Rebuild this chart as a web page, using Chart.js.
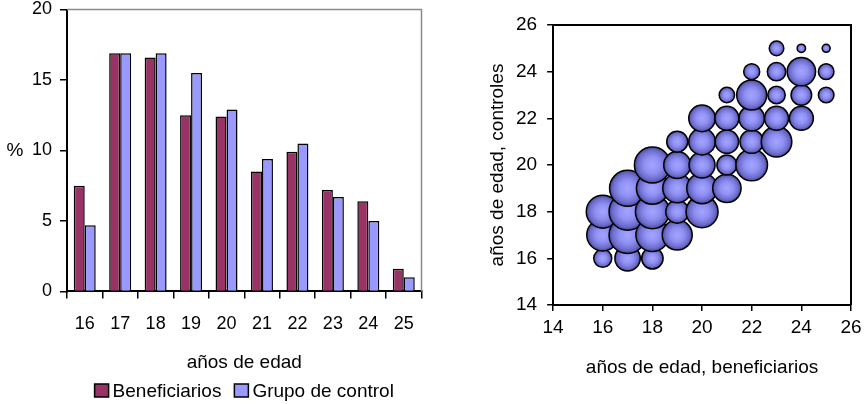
<!DOCTYPE html>
<html>
<head>
<meta charset="utf-8">
<script src="https://cdn.jsdelivr.net/npm/chart.js@4/dist/chart.umd.min.js"></script>
<style>
  html, body { margin: 0; padding: 0; background: #fff; }
  body { width: 866px; height: 404px; position: relative; overflow: hidden; }
  #c1 { position: absolute; left: 0; top: 0; }
  #c2 { position: absolute; left: 440px; top: 0; }
</style>
</head>
<body>
<canvas id="c1" width="440" height="404"></canvas>
<canvas id="c2" width="426" height="404"></canvas>
<script>
// ---- Bar chart data ----
const ageLabels = ['16', '17', '18', '19', '20', '21', '22', '23', '24', '25'];
const beneficiarios = [7.5, 16.9, 16.6, 12.5, 12.4, 8.5, 9.9, 7.2, 6.4, 1.6];
const grupoControl = [4.7, 16.9, 16.9, 15.5, 12.9, 9.4, 10.5, 6.7, 5.0, 1.0];
const barYTicks = [0, 5, 10, 15, 20];

// ---- Bubble chart data (age of beneficiary, age of control, bubble size) ----
const bubX = [16, 16, 16,
              17, 17, 17, 17,
              18, 18, 18, 18, 18,
              19, 19, 19, 19, 19,
              20, 20, 20, 20, 20,
              21, 21, 21, 21, 21,
              22, 22, 22, 22, 22,
              23, 23, 23, 23, 23,
              24, 24, 24, 24,
              25, 25, 25];
const bubY = [16, 17, 18,
              16, 17, 18, 19,
              16, 17, 18, 19, 20,
              17, 18, 19, 20, 21,
              18, 19, 20, 21, 22,
              19, 20, 21, 22, 23,
              20, 21, 22, 23, 24,
              21, 22, 23, 24, 25,
              22, 23, 24, 25,
              23, 24, 25];
const bubSize = [9, 16, 16.5,
                 12.7, 18.5, 18.5, 18,
                 10.7, 16.5, 17, 16, 18,
                 15, 11.5, 14.5, 13.5, 10.5,
                 16, 15.3, 13, 13.3, 13.3,
                 14.2, 10, 11.7, 12, 7.7,
                 15.8, 11.7, 12.7, 15, 8,
                 15.3, 12, 8.7, 9.2, 7.3,
                 12, 10.3, 14.2, 4.2,
                 7.8, 7.8, 4];
const axisTicks = [14, 16, 18, 20, 22, 24, 26];

const FONT = "'Liberation Sans', Arial, sans-serif";
Chart.defaults.font.family = FONT;
Chart.defaults.color = '#000';

function frameLines(color, width) {
  return {
    id: 'frame',
    beforeDatasetsDraw(chart) {
      const { ctx, chartArea: a } = chart;
      ctx.save();
      ctx.strokeStyle = color;
      ctx.lineWidth = width;
      ctx.beginPath();
      ctx.moveTo(a.left, a.top);
      ctx.lineTo(a.right, a.top);
      ctx.lineTo(a.right, a.bottom);
      ctx.stroke();
      ctx.restore();
    }
  };
}

const percentLabel = {
  id: 'percentLabel',
  afterDraw(chart) {
    const { ctx, chartArea: a } = chart;
    ctx.save();
    ctx.fillStyle = '#000';
    ctx.font = "19px " + FONT;
    ctx.textAlign = 'center';
    ctx.textBaseline = 'middle';
    ctx.fillText('%', 15, (a.top + a.bottom) / 2);
    ctx.restore();
  }
};

// Legend drawn under the x-axis title, centred on the plot area
const bottomLegend = {
  id: 'bottomLegend',
  afterDraw(chart) {
    const { ctx, chartArea: a } = chart;
    const items = chart.data.datasets.map(d => ({ text: d.label, color: d.backgroundColor }));
    const boxW = 14, boxH = 13, gapText = 4, gapItem = 13;
    ctx.save();
    ctx.font = "19px " + FONT;
    const widths = items.map(it => ctx.measureText(it.text).width);
    let total = 0;
    widths.forEach((w, i) => { total += boxW + gapText + w + (i < widths.length - 1 ? gapItem : 0); });
    let x = (a.left + a.right) / 2 - total / 2;
    const yc = chart.height - 13.5;
    items.forEach((it, i) => {
      ctx.fillStyle = it.color;
      ctx.fillRect(x, yc - boxH / 2, boxW, boxH);
      ctx.strokeStyle = '#000';
      ctx.lineWidth = 1.5;
      ctx.strokeRect(x, yc - boxH / 2, boxW, boxH);
      ctx.fillStyle = '#000';
      ctx.textAlign = 'left';
      ctx.textBaseline = 'middle';
      ctx.fillText(it.text, x + boxW + gapText, yc + 1);
      x += boxW + gapText + widths[i] + gapItem;
    });
    ctx.restore();
  }
};

new Chart(document.getElementById('c1'), {
  type: 'bar',
  data: {
    labels: ageLabels,
    datasets: [
      { label: 'Beneficiarios', data: beneficiarios, backgroundColor: '#993366', borderColor: '#000', borderWidth: 1.5 },
      { label: 'Grupo de control', data: grupoControl, backgroundColor: '#9999FF', borderColor: '#000', borderWidth: 1.5 }
    ]
  },
  options: {
    responsive: false,
    animation: false,
    devicePixelRatio: 1,
    categoryPercentage: 0.62,
    barPercentage: 1.0,
    layout: { padding: { left: 0, right: 18.5, top: 9.5, bottom: 29.6 } },
    plugins: {
      legend: { display: false },
      tooltip: { enabled: false }
    },
    scales: {
      x: {
        afterFit(scale) { scale.paddingLeft = 0; scale.paddingRight = 0; },
        grid: { drawOnChartArea: false, tickLength: 7, color: '#000', lineWidth: 1.5 },
        border: { color: '#000', width: 2 },
        ticks: { font: { size: 18 }, color: '#000', padding: 15 },
        title: { display: true, text: 'años de edad', font: { size: 19 }, color: '#000', padding: { top: 1.6, bottom: 0 } }
      },
      y: {
        min: 0, max: 20,
        afterBuildTicks(scale) { scale.ticks = barYTicks.map(v => ({ value: v })); },
        afterFit(scale) { scale.width = 67; scale.paddingTop = 0; scale.paddingBottom = 0; },
        grid: { drawOnChartArea: false, tickLength: 7, color: '#000', lineWidth: 1.5 },
        border: { color: '#000', width: 2 },
        ticks: { font: { size: 18 }, color: '#000', padding: 8 }
      }
    }
  },
  plugins: [frameLines('#8a8a8a', 1.5), percentLabel, bottomLegend]
});

const bubbleData = bubX.map((x, i) => ({ x: x, y: bubY[i], r: bubSize[i] }));

function bubbleFill(c) {
  if (c.type !== 'data' || !c.raw) return '#9999FF';
  const ch = c.chart;
  if (!ch.scales || !ch.scales.x || !ch.scales.y) return '#9999FF';
  const x = ch.scales.x.getPixelForValue(c.raw.x);
  const y = ch.scales.y.getPixelForValue(c.raw.y);
  const r = c.raw.r;
  if (!isFinite(x) || !isFinite(y)) return '#9999FF';
  const g = ch.ctx.createRadialGradient(x, y, 0, x, y, r);
  g.addColorStop(0, '#A4A4FF');
  g.addColorStop(0.45, '#9090F4');
  g.addColorStop(0.8, '#6D6DCC');
  g.addColorStop(1, '#4A4A9E');
  return g;
}

new Chart(document.getElementById('c2'), {
  type: 'bubble',
  data: {
    datasets: [{
      label: 'edades',
      data: bubbleData,
      backgroundColor: bubbleFill,
      borderColor: '#000',
      borderWidth: 1.5
    }]
  },
  options: {
    responsive: false,
    animation: false,
    devicePixelRatio: 1,
    layout: { autoPadding: false, padding: { left: 42.6, right: 15, top: 25, bottom: 24.6 } },
    plugins: { legend: { display: false }, tooltip: { enabled: false } },
    scales: {
      x: {
        type: 'linear', min: 14, max: 26,
        afterBuildTicks(scale) { scale.ticks = axisTicks.map(v => ({ value: v })); },
        afterFit(scale) { scale.paddingLeft = 0; scale.paddingRight = 0; },
        grid: { drawOnChartArea: false, tickLength: 6, color: '#000', lineWidth: 1.5 },
        border: { color: '#000', width: 2 },
        ticks: { font: { size: 19 }, color: '#000', padding: 5 },
        title: { display: true, text: 'años de edad, beneficiarios', font: { size: 19 }, color: '#000', padding: { top: 12.8, bottom: 0 } }
      },
      y: {
        type: 'linear', min: 14, max: 26,
        afterBuildTicks(scale) { scale.ticks = axisTicks.map(v => ({ value: v })); },
        afterFit(scale) { scale.width = 70.5; scale.paddingTop = 0; scale.paddingBottom = 0; },
        grid: { drawOnChartArea: false, tickLength: 6, color: '#000', lineWidth: 1.5 },
        border: { color: '#000', width: 2 },
        ticks: { font: { size: 19 }, color: '#000', padding: 10 },
        title: { display: true, text: 'años de edad, controles', font: { size: 19 }, color: '#000', padding: { top: 4, bottom: 6.6 } }
      }
    }
  },
  plugins: [frameLines('#000', 2)]
});
</script>
</body>
</html>
